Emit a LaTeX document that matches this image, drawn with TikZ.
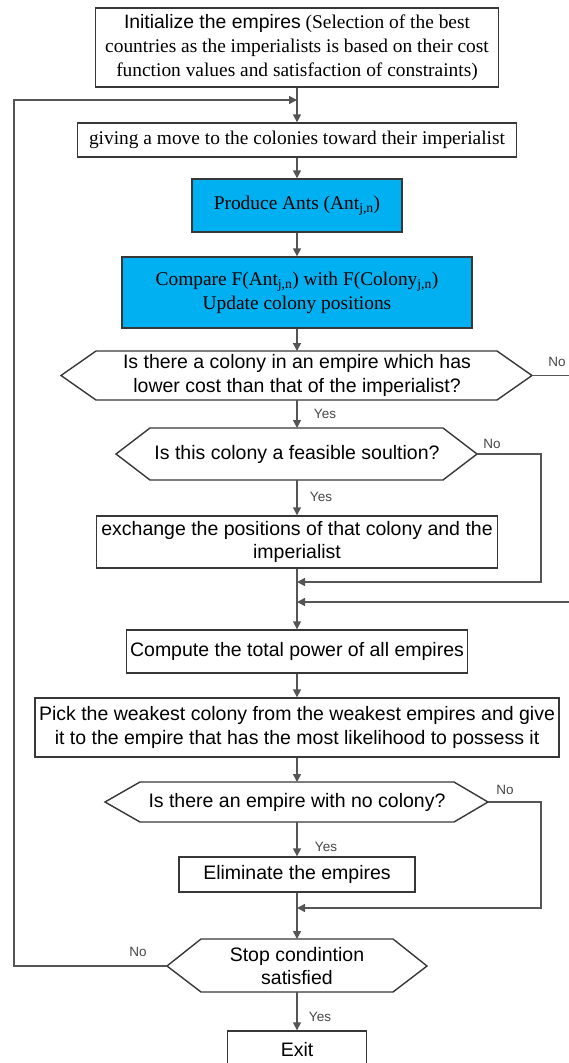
\documentclass[tikz,border=0pt]{standalone}
\usepackage{fontspec}
\setmainfont{Liberation Serif}
\newfontfamily\arialf{Liberation Sans}
\usetikzlibrary{arrows.meta}
\definecolor{boxblue}{RGB}{0,176,240}
\definecolor{edgec}{RGB}{55,55,55}
\definecolor{linec}{RGB}{85,85,85}
\definecolor{lblc}{RGB}{70,70,70}
\begin{document}
\begin{tikzpicture}[x=1pt,y=-1pt,
  box/.style={draw=edgec, line width=1.4pt, align=center, inner sep=0pt, fill=white},
  bluebox/.style={box, fill=boxblue},
  sansT/.style={font=\arialf\fontsize{19.5}{23.5}\selectfont},
  serifT/.style={font=\fontsize{19.4}{24}\selectfont},
  hexline/.style={draw=edgec, line width=1.4pt},
  conn/.style={draw=linec, line width=1.5pt},
  arr/.style={conn, -{Triangle[length=8pt,width=8pt]}},
  lbl/.style={font=\arialf\fontsize{13.5}{15}\selectfont, text=lblc, inner sep=0pt},
  hextext/.style={sansT, align=center, inner sep=0pt},
]
\useasboundingbox (0,0) rectangle (569,1063);

% boxes
\node[box, serifT, minimum width=403pt, minimum height=79pt] (init) at (297,47.5)
  {{\arialf Initialize the empires} (Selection of the best\\countries as the imperialists is based on their cost\\function values and satisfaction of constraints)};
\node[box, serifT, minimum width=439pt, minimum height=34pt] (move) at (297,140)
  {giving a move to the colonies toward their imperialist};
\node[bluebox, serifT, minimum width=210pt, minimum height=53pt] (ants) at (297,205.5)
  {Produce Ants (Ant\textsubscript{j,n})};
\node[bluebox, serifT, minimum width=350pt, minimum height=71pt] (cmp) at (297,292.5)
  {Compare F(Ant\textsubscript{j,n}) with F(Colony\textsubscript{j,n})\\Update colony positions};

% hexagon 1
\draw[hexline] (61,375.5) -- (96,351) -- (497,351) -- (532,375.5) -- (497,400) -- (96,400) -- cycle;
\node[hextext] (h1) at (297,375.5) {Is there a colony in an empire which has\\lower cost than that of the imperialist?};
\coordinate (h1n) at (297,351);
\coordinate (h1s) at (297,400);
\coordinate (h1e) at (532,375.5);
\coordinate (h1x) at (575,375.5);

% hexagon 2
\draw[hexline] (116,454) -- (150,428) -- (443,428) -- (477,454) -- (443,480) -- (150,480) -- cycle;
\node[hextext] (h2) at (297,454) {Is this colony a feasible soultion?};
\coordinate (h2n) at (297,428);
\coordinate (h2s) at (297,480);
\coordinate (h2e) at (477,454);
\coordinate (h2c) at (541,454);
\coordinate (h2d) at (541,582);

\node[box, sansT, minimum width=401pt, minimum height=52pt] (exch) at (297,542)
  {exchange the positions of that colony and the\\imperialist};

\coordinate (j1) at (297,582);
\coordinate (j2) at (297,602);
\coordinate (rx) at (575,602);

\node[box, sansT, minimum width=341pt, minimum height=43pt] (comp) at (297,651.5)
  {Compute the total power of all empires};
\node[box, sansT, minimum width=524pt, minimum height=59pt] (pick) at (297,727.5)
  {Pick the weakest colony from the weakest empires and give\\it to the empire that has the most likelihood to possess it};

% hexagon 3
\draw[hexline] (105,802) -- (140,782) -- (454,782) -- (488,802) -- (454,822) -- (140,822) -- cycle;
\node[hextext] (h3) at (297,802) {Is there an empire with no colony?};
\coordinate (h3n) at (297,782);
\coordinate (h3s) at (297,822);
\coordinate (h3e) at (488,802);
\coordinate (h3c) at (541,802);
\coordinate (h3d) at (541,908);

\node[box, sansT, minimum width=236pt, minimum height=35pt] (elim) at (297,874.5)
  {Eliminate the empires};
\coordinate (j3) at (297,908);

% hexagon 4
\draw[hexline] (167,966) -- (201,939) -- (393,939) -- (427,966) -- (393,992) -- (201,992) -- cycle;
\node[hextext] (h4) at (297,966) {Stop condintion\\satisfied};
\coordinate (h4n) at (297,939);
\coordinate (h4s) at (297,992);
\coordinate (h4w) at (167,966);
\coordinate (lb) at (14,966);
\coordinate (lt) at (14,100);
\coordinate (j0) at (297,100);

\node[box, sansT, minimum width=139pt, minimum height=36pt] (exit) at (297,1049) {Exit};

% connectors
\draw[arr] (init.south) -- (move.north);
\draw[arr] (h4w) -- (lb) -- (lt) -- (j0);
\draw[arr] (move.south) -- (ants.north);
\draw[arr] (ants.south) -- (cmp.north);
\draw[arr] (cmp.south) -- (h1n);
\draw[arr] (h1s) -- (h2n);
\draw[conn] (h1e) -- (h1x);
\draw[arr] (h2s) -- (exch.north);
\draw[arr] (h2e) -- (h2c) -- (h2d) -- (j1);
\draw[arr] (rx) -- (j2);
\draw[arr] (exch.south) -- (comp.north);
\draw[arr] (comp.south) -- (pick.north);
\draw[arr] (pick.south) -- (h3n);
\draw[arr] (h3s) -- (elim.north);
\draw[arr] (h3e) -- (h3c) -- (h3d) -- (j3);
\draw[arr] (elim.south) -- (h4n);
\draw[arr] (h4s) -- (exit.north);

% labels
\node[lbl] (no1) at (557,362) {No};
\node[lbl] (yes1) at (325,414) {Yes};
\node[lbl] (no2) at (492,444) {No};
\node[lbl] (yes2) at (321,497) {Yes};
\node[lbl] (no3) at (505,790) {No};
\node[lbl] (yes3) at (326,847) {Yes};
\node[lbl] (no4) at (138,952) {No};
\node[lbl] (yes4) at (320,1017) {Yes};
\end{tikzpicture}
\end{document}
